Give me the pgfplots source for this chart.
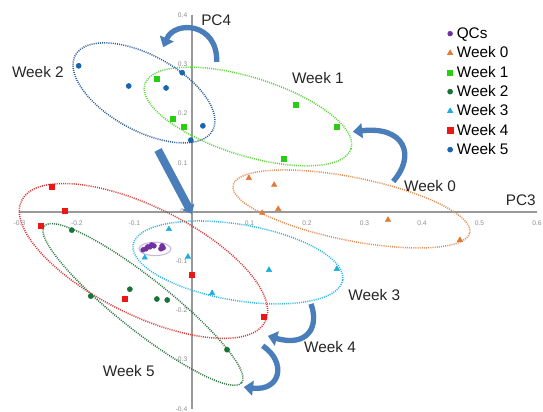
\documentclass[border=0pt]{standalone}
\usepackage{fontspec}
\setmainfont{Liberation Sans}
\usepackage{pgfplots}
\pgfplotsset{compat=1.18}
\usetikzlibrary{arrows.meta}
\definecolor{cQC}{RGB}{112,48,160}
\definecolor{cW0}{RGB}{226,122,55}
\definecolor{cW1}{RGB}{40,205,20}
\definecolor{cW2}{RGB}{25,115,55}
\definecolor{cW3}{RGB}{30,172,222}
\definecolor{cW4}{RGB}{236,22,22}
\definecolor{cW5}{RGB}{25,100,175}
\definecolor{eW0}{RGB}{228,140,85}
\definecolor{eW1}{RGB}{95,210,60}
\definecolor{eW2}{RGB}{45,120,65}
\definecolor{eW3}{RGB}{45,182,228}
\definecolor{eW4}{RGB}{222,55,55}
\definecolor{eW5}{RGB}{45,95,155}
\definecolor{eQC}{RGB}{200,180,222}
\definecolor{arrc}{RGB}{74,126,186}
\tikzset{
  dots/.style={line width=1.15pt, dash pattern=on 0.75pt off 0.85pt},
  arr/.style={draw=arrc, line width=4pt, -{Triangle[length=7pt,width=11pt]}},
  lab/.style={font=\fontsize{11.5}{13}\selectfont, text=black!85},
}
\begin{document}
\begin{tikzpicture}
\begin{axis}[
  scale only axis,
  width=388.1pt, height=295.2pt,
  xmin=-0.3, xmax=0.6, ymin=-0.4, ymax=0.4,
  axis lines=middle,
  axis line style={-, draw=gray!80, line width=1.1pt},
  major tick length=0pt,
  xtick={-0.3,-0.2,-0.1,0.1,0.2,0.3,0.4,0.5,0.6},
  ytick={-0.4,-0.3,-0.2,-0.1,0.1,0.2,0.3,0.4},
  xticklabels={-0.3,-0.2,-0.1,0.1,0.2,0.3,0.4,0.5,0.6},
  yticklabels={-0.4,-0.3,-0.2,-0.1,0.1,0.2,0.3,0.4},
  tick label style={font=\fontsize{5}{6}\selectfont, text=gray!90},
  /pgf/number format/assume math mode=true,
  xticklabel style={yshift=-3.5pt},
  clip=false,
  legend style={at={(axis cs:0.437,0.388)}, anchor=north west, draw=none, fill=none,
    font=\fontsize{11.5}{13}\selectfont, row sep=0pt,
    nodes={inner sep=0.5pt, text height=10.3pt, text depth=3.2pt},
    /tikz/every odd column/.append style={column sep=2.5pt}},
  legend cell align=left,
  legend image code/.code={\draw[#1] plot coordinates {(0.08cm,0cm)};},
]
% ellipses
\draw[eW5, dots, rotate around={-28.7:(axis cs:-0.0835,0.242)}] (axis cs:-0.0835,0.242) ellipse [x radius=58.7pt, y radius=28.2pt];
\draw[eW1, dots, rotate around={-17.4:(axis cs:0.0974,0.194)}] (axis cs:0.0974,0.194) ellipse [x radius=81pt, y radius=29.3pt];
\draw[eW0, dots, rotate around={-11.3:(axis cs:0.2774,0.0061)}] (axis cs:0.2774,0.0061) ellipse [x radius=90.5pt, y radius=23.7pt];
\draw[eW3, dots, rotate around={-9.6:(axis cs:0.08,-0.1026)}] (axis cs:0.08,-0.1026) ellipse [x radius=79.7pt, y radius=28.5pt];
\draw[eW4, dots, rotate around={-26.4:(axis cs:-0.0843,-0.0996)}] (axis cs:-0.0843,-0.0996) ellipse [x radius=102pt, y radius=40.5pt];
\draw[eW2, dots, rotate around={-38.4:(axis cs:-0.0852,-0.188)}] (axis cs:-0.0852,-0.188) ellipse [x radius=94.5pt, y radius=19.5pt];
\draw[eQC, line width=0.8pt] (axis cs:-0.0643,-0.0752) ellipse [x radius=12pt, y radius=5pt];

% data
\addplot[only marks, mark=*, mark size=1.8pt, color=cQC] coordinates {
(-0.085,-0.077) (-0.080,-0.075) (-0.077,-0.071) (-0.073,-0.071) (-0.070,-0.067)
(-0.066,-0.069) (-0.054,-0.075) (-0.052,-0.069) (-0.050,-0.073)};
\addlegendentry{QCs}
\addplot[only marks, mark=triangle*, mark size=2.3pt, color=cW0] coordinates {
(0.099,0.069) (0.143,0.055) (0.150,0.006) (0.122,-0.002) (0.341,-0.016) (0.466,-0.057)};
\addlegendentry{Week 0}
\addplot[only marks, mark=square*, mark size=1.9pt, color=cW1] coordinates {
(-0.061,0.270) (-0.033,0.189) (-0.014,0.173) (0.181,0.217) (0.252,0.173) (0.160,0.108)};
\addlegendentry{Week 1}
\addplot[only marks, mark=*, mark size=1.9pt, color=cW2] coordinates {
(-0.209,-0.037) (-0.176,-0.171) (-0.108,-0.157) (-0.061,-0.177) (-0.043,-0.179) (0.061,-0.280)};
\addlegendentry{Week 2}
\addplot[only marks, mark=triangle*, mark size=2.3pt, color=cW3] coordinates {
(-0.040,-0.035) (-0.082,-0.093) (-0.007,-0.091) (0.035,-0.165) (0.134,-0.118) (0.252,-0.116)};
\addlegendentry{Week 3}
\addplot[only marks, mark=square*, mark size=2pt, color=cW4] coordinates {
(-0.244,0.051) (-0.221,0.002) (-0.263,-0.028) (0.0,-0.128) (-0.117,-0.177) (0.125,-0.213)};
\addlegendentry{Week 4}
\addplot[only marks, mark=*, mark size=1.9pt, color=cW5] coordinates {
(-0.197,0.297) (-0.110,0.256) (-0.045,0.252) (-0.017,0.283) (0.019,0.175) (-0.002,0.146)};
\addlegendentry{Week 5}

% arrows
\draw[arr] (axis cs:0.043,0.305) .. controls (axis cs:0.045,0.385) and (axis cs:-0.03,0.39) .. (axis cs:-0.05,0.335);
\draw[draw=arrc, line width=6pt, -{Triangle[length=6pt,width=10pt]}] (axis cs:-0.059,0.126) -- (axis cs:0,-0.004);
\draw[arr] (axis cs:0.350,0.062) .. controls (axis cs:0.39,0.115) and (axis cs:0.37,0.175) .. (axis cs:0.280,0.163);
\draw[arr] (axis cs:0.207,-0.187) .. controls (axis cs:0.222,-0.235) and (axis cs:0.2,-0.275) .. (axis cs:0.132,-0.252);
\draw[arr] (axis cs:0.123,-0.272) .. controls (axis cs:0.165,-0.305) and (axis cs:0.155,-0.365) .. (axis cs:0.090,-0.356);

% labels
\node[lab] at (axis cs:-0.268,0.285) {Week 2};
\node[lab] at (axis cs:0.219,0.272) {Week 1};
\node[lab] at (axis cs:0.414,0.053) {Week 0};
\node[lab] at (axis cs:0.317,-0.169) {Week 3};
\node[lab] at (axis cs:0.240,-0.274) {Week 4};
\node[lab] at (axis cs:-0.110,-0.323) {Week 5};
\node[lab, anchor=west] at (axis cs:0.008,0.390) {PC4};
\node[lab] at (axis cs:0.572,0.024) {PC3};
\node[font=\fontsize{5}{6}\selectfont, text=gray!90] at (axis cs:-0.017,0.002) {0};
\coordinate (ll) at (axis cs:-0.3,-0.4);
\end{axis}
\pgfresetboundingbox
\path ([xshift=-14.6pt,yshift=-1.7pt]ll) rectangle ++(407.25pt,308.25pt);
\end{tikzpicture}
\end{document}
